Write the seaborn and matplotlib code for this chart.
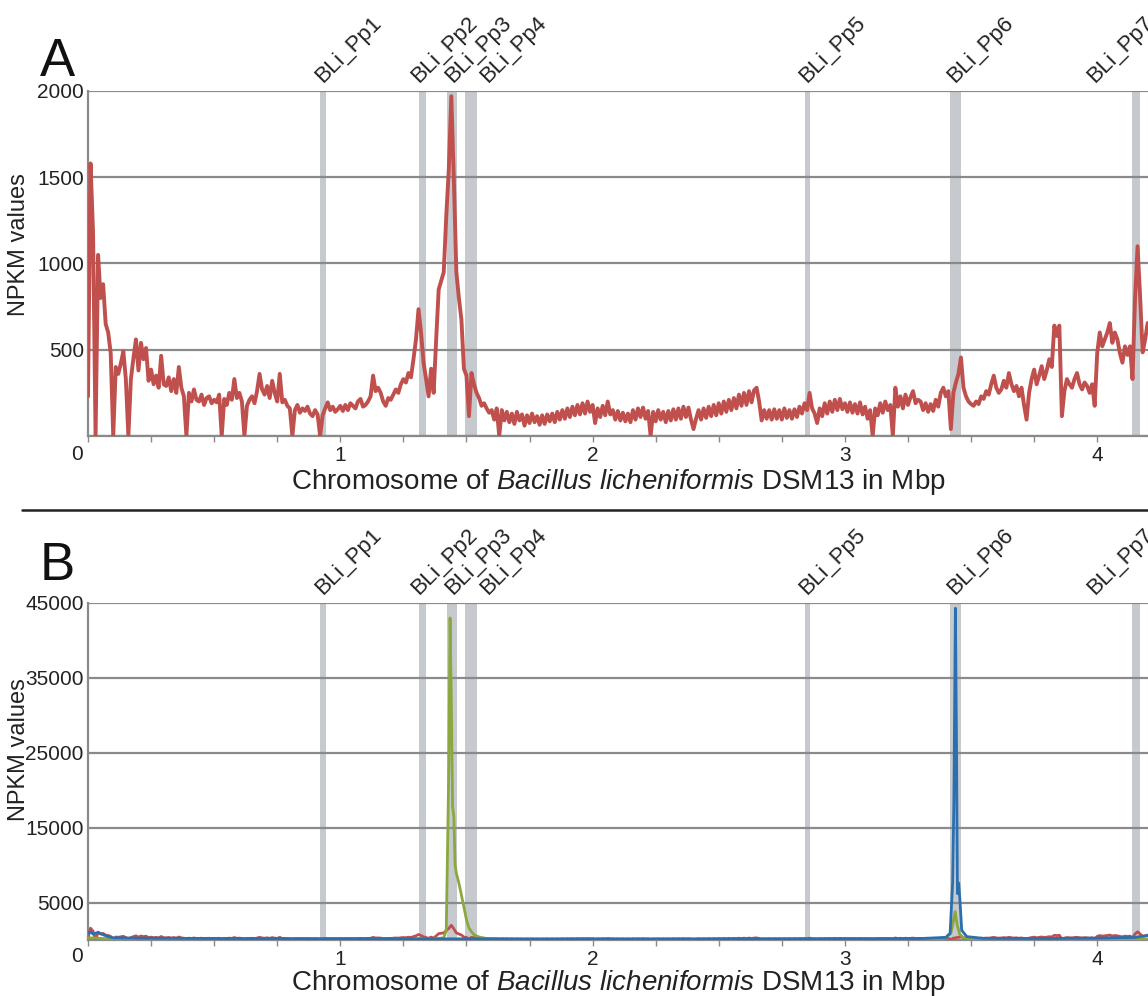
import numpy as np
import pandas as pd
import matplotlib
matplotlib.use('Agg')
import matplotlib.pyplot as plt
import seaborn as sns
from matplotlib.lines import Line2D

# NPKM Werte (rot), Fenster von 0.01 Mbp ab 0
npkm_red = [
    230, 1580, 1180, 0, 1050, 800, 880, 650, 600, 480,
    0, 400, 360, 420, 490, 330, 0, 330, 450, 560,
    380, 540, 445, 510, 320, 385, 300, 350, 280, 465,
    300, 290, 340, 260, 330, 250, 400, 280, 230, 0,
    250, 200, 270, 210, 200, 240, 180, 220, 230, 190,
    210, 195, 240, 0, 215, 180, 250, 210, 330, 220,
    250, 200, 0, 175, 210, 230, 190, 260, 360, 270,
    240, 290, 220, 320, 250, 200, 360, 195, 210, 175,
    160, 0, 150, 180, 135, 160, 145, 170, 130, 115,
    150, 125, 0, 120, 160, 195, 150, 170, 140, 155,
    175, 145, 180, 150, 190, 175, 160, 200, 215, 170,
    180, 200, 230, 350, 260, 280, 250, 200, 175, 220,
    210, 240, 270, 250, 300, 330, 310, 365, 340, 445,
    560, 735, 600, 425, 330, 230, 390, 250, 560, 850,
    900, 950, 1275, 1545, 1970, 1490, 950, 800, 675, 390,
    350, 115, 365, 300, 250, 220, 175, 190, 160, 135,
    150, 95, 160, 0, 150, 90, 140, 80, 130, 70,
    140, 90, 125, 60, 120, 75, 130, 80, 115, 65,
    120, 70, 125, 85, 130, 80, 140, 95, 150, 100,
    160, 110, 170, 120, 180, 125, 190, 130, 200, 140,
    180, 75, 160, 110, 175, 120, 200, 125, 150, 95,
    145, 90, 135, 85, 130, 80, 150, 95, 160, 110,
    165, 100, 145, 0, 140, 85, 150, 95, 140, 80,
    145, 90, 155, 95, 160, 100, 170, 110, 165, 95,
    40, 100, 150, 95, 160, 105, 170, 115, 180, 120,
    190, 130, 200, 140, 210, 150, 220, 160, 240, 175,
    250, 180, 260, 195, 265, 280, 200, 90, 150, 100,
    150, 95, 155, 100, 150, 95, 160, 105, 150, 100,
    155, 110, 170, 130, 190, 150, 250, 160, 130, 75,
    160, 115, 190, 130, 200, 140, 210, 150, 215, 155,
    190, 140, 195, 135, 185, 130, 195, 125, 170, 100,
    150, 0, 160, 120, 190, 135, 200, 150, 180, 0,
    280, 170, 230, 160, 240, 180, 225, 260, 190, 210,
    200, 150, 190, 140, 185, 145, 210, 170, 250, 280,
    230, 260, 40, 250, 310, 360, 455, 280, 230, 200,
    185, 175, 200, 185, 230, 215, 260, 240, 300, 350,
    280, 250, 270, 320, 280, 365, 300, 260, 290, 230,
    280, 180, 95, 250, 330, 385, 300, 350, 405, 330,
    380, 445, 400, 640, 580, 640, 115, 260, 330, 300,
    280, 330, 365, 300, 270, 310, 290, 250, 300, 175,
    480, 600, 520, 560, 600, 655, 540, 600, 560, 480,
    425, 520, 470, 520, 330, 800, 1100, 810, 485, 560,
    655,
]
bin_mbp = 0.01

# gruene Kurve (Panel B)
green_pos = [0.0, 0.03, 0.06, 0.1, 0.3, 0.6, 0.9, 1.2, 1.38, 1.41, 1.42, 1.425,
             1.43, 1.435, 1.44, 1.445, 1.45, 1.455, 1.46, 1.47, 1.48, 1.49, 1.5,
             1.51, 1.52, 1.53, 1.55, 1.58, 1.7, 2.0, 2.5, 3.0, 3.35, 3.4, 3.42,
             3.43, 3.437, 3.445, 3.455, 3.47, 3.5, 3.8, 4.2]
green_val = [300, 250, 200, 150, 100, 80, 80, 100, 150, 300, 1300, 12000,
             23000, 43000, 32000, 17800, 16500, 10000, 8900, 7600, 6000, 4400, 2700,
             1600, 1100, 700, 400, 200, 100, 80, 80, 80, 100, 300, 900,
             2500, 3800, 2000, 800, 300, 120, 100, 150]

# blaue Kurve (Panel B)
blue_pos = [0.0, 0.01, 0.02, 0.04, 0.06, 0.08, 0.1, 0.2, 0.5, 1.0, 1.5, 2.0,
            2.5, 3.0, 3.3, 3.4, 3.417, 3.427, 3.432, 3.438, 3.442, 3.446, 3.451,
            3.456, 3.463, 3.483, 3.55, 3.8, 4.0, 4.15, 4.2]
blue_val = [900, 1100, 800, 1000, 700, 450, 300, 250, 200, 180, 150, 150,
            160, 180, 200, 350, 900, 7600, 18700, 44300, 27600, 6200, 7600,
            5300, 1300, 450, 220, 200, 250, 350, 600]

# Prophagen (Mitte, Breite, Position der Beschriftung in Mbp)
prophages = ['BLi_Pp1', 'BLi_Pp2', 'BLi_Pp3', 'BLi_Pp4', 'BLi_Pp5', 'BLi_Pp6', 'BLi_Pp7']
pp_center = [0.933, 1.326, 1.441, 1.518, 2.853, 3.438, 4.153]
pp_width = [0.024, 0.028, 0.04, 0.048, 0.021, 0.046, 0.03]
pp_label = [0.942, 1.325, 1.458, 1.599, 2.862, 3.447, 4.002]

RED = '#c0504d'
GREEN = '#8aa83e'
BLUE = '#2a6fb0'
BAND = '#c6c9cd'
GRID = '#8a8a8a'
XLABEL = r'Chromosome of $\mathit{Bacillus\ licheniformis}$ DSM13 in Mbp'

sns.set_theme(style='white')
plt.rcParams['font.family'] = ['Liberation Sans', 'DejaVu Sans']
plt.rcParams['mathtext.fontset'] = 'custom'
plt.rcParams['mathtext.rm'] = 'Liberation Sans'
plt.rcParams['mathtext.it'] = 'Liberation Sans:italic'

W, H = 1148, 996
fig = plt.figure(figsize=(W / 100, H / 100), dpi=100)
axA = fig.add_axes([88 / W, 1 - 436 / H, 1060 / W, 345 / H])
axB = fig.add_axes([88 / W, 1 - 940 / H, 1060 / W, 337 / H])

red_df = pd.DataFrame({'pos': np.arange(len(npkm_red)) * bin_mbp, 'npkm': npkm_red})


def panel(ax, yticks):
    for c, w in zip(pp_center, pp_width):
        ax.axvspan(c - w / 2, c + w / 2, color=BAND, lw=0, zorder=0.3)
    ax.set_xlim(0, 1060 / 252.3)
    ax.set_ylim(0, yticks[-1])
    ax.set_yticks(yticks)
    ax.set_yticklabels([''] + [str(t) for t in yticks[1:]])
    ax.set_xticks([1, 2, 3, 4])
    ax.set_xticks(np.arange(0, 4.21, 0.25), minor=True)
    ax.set_axisbelow(True)
    ax.grid(axis='y', color=GRID, lw=1.6)
    ax.grid(axis='x', visible=False)
    for s in ['top', 'right']:
        ax.spines[s].set_visible(False)
    for s in ['left', 'bottom']:
        ax.spines[s].set_color(GRID)
        ax.spines[s].set_linewidth(1.6)
    ax.tick_params(axis='x', which='both', bottom=True, length=4, width=1,
                   color=GRID, direction='out', pad=3, labelsize=15, labelcolor='#222')
    ax.tick_params(axis='y', left=False, length=0, pad=3, labelsize=15, labelcolor='#222')
    for name, lx in zip(prophages, pp_label):
        ax.text(lx, 1.012, name, transform=ax.get_xaxis_transform(),
                rotation=45, rotation_mode='anchor', ha='left', va='bottom',
                fontsize=16, color='#222', clip_on=False)


# Panel A
panel(axA, [0, 500, 1000, 1500, 2000])
sns.lineplot(data=red_df, x='pos', y='npkm', ax=axA, color=RED, lw=2.8,
             estimator=None, sort=False, zorder=3)

# Panel B
panel(axB, [0, 5000, 15000, 25000, 35000, 45000])
sns.lineplot(data=red_df, x='pos', y='npkm', ax=axB, color=RED, lw=2.0,
             estimator=None, sort=False, zorder=3)
sns.lineplot(x=green_pos, y=green_val, ax=axB, color=GREEN, lw=2.0,
             estimator=None, sort=False, zorder=4)
sns.lineplot(x=blue_pos, y=blue_val, ax=axB, color=BLUE, lw=2.0,
             estimator=None, sort=False, zorder=5)

# Achsenbeschriftungen (nach lineplot setzen)
for ax, ly, xy in [(axA, 0.556, -0.09), (axB, 0.564, -0.083)]:
    ax.set_xlabel(XLABEL, fontsize=20, color='#222')
    ax.xaxis.set_label_coords(0.5, xy)
    ax.set_ylabel('NPKM values', fontsize=17, color='#222')
    ax.yaxis.set_label_coords(-0.055, ly)

# "0" an der Ecke
fig.text(77 / W, 1 - 454 / H, '0', ha='center', va='center', fontsize=15, color='#222')
fig.text(77 / W, 1 - 956 / H, '0', ha='center', va='center', fontsize=15, color='#222')

# Panelbuchstaben
fig.text(40 / W, 1 - 76 / H, 'A', fontsize=38, va='baseline', ha='left', color='#111')
fig.text(40 / W, 1 - 580 / H, 'B', fontsize=38, va='baseline', ha='left', color='#111')

# Trennlinie
fig.add_artist(Line2D([22 / W, 1], [1 - 510 / H, 1 - 510 / H], color='#222', lw=1.8))

fig.savefig('out.png', dpi=100)
